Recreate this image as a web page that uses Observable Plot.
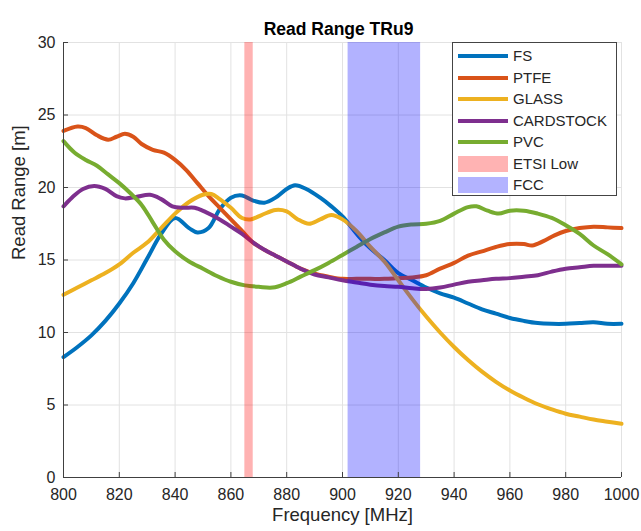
<!DOCTYPE html>
<html>
<head>
<meta charset="utf-8">
<script src="https://cdn.jsdelivr.net/npm/d3@7"></script>
<script src="https://cdn.jsdelivr.net/npm/@observablehq/plot@0.6"></script>
<style>
  body { margin: 0; background: #fff; }
  #wrap { position: relative; width: 641px; height: 531px; font-family: "Liberation Sans", Arial, sans-serif; }
  #legend { position: absolute; left: 452px; top: 42px; width: 165px; height: 154px; box-sizing: border-box;
            border: 1px solid #444; background: #fff; }
  .row { position: absolute; left: 0; height: 20px; width: 100%; }
  .sw-line { position: absolute; left: 5px; top: 8px; width: 50px; height: 4px; }
  .sw-patch { position: absolute; left: 5px; top: 2px; width: 50px; height: 16px; }
  .lab { position: absolute; left: 60px; top: 0; line-height: 20px; font-size: 15px; color: #262626; white-space: nowrap; }
</style>
</head>
<body>
<div id="wrap"></div>
<script>
const chartTitle = "Read Range TRu9";
const xLabel = "Frequency [MHz]";
const yLabel = "Read Range [m]";
const xDomain = [800, 1000];
const yDomain = [0, 30];
const xTicks = [800, 820, 840, 860, 880, 900, 920, 940, 960, 980, 1000];
const yTicks = [0, 5, 10, 15, 20, 25, 30];

const seriesNames = ["FS", "PTFE", "GLASS", "CARDSTOCK", "PVC"];
const seriesColors = ["#0072BD", "#D95319", "#EDB120", "#7E2F8E", "#77AC30"];

const fsFreq  = [800,805,810,815,820,825,830,835,840,845,848,852,856,860,864,868,872,876,880,883,887,892,896,900,906,910,915,920,925,930,935,940,945,950,955,960,965,970,975,980,985,990,995,1000];
const fsRange = [8.3,9.0,9.8,10.8,12.0,13.4,15.1,16.8,17.9,17.2,16.9,17.2,18.5,19.3,19.45,19.1,18.95,19.3,19.9,20.15,19.9,19.3,18.7,18.0,16.6,15.8,15.0,14.1,13.6,13.1,12.7,12.4,12.0,11.6,11.3,11.0,10.8,10.65,10.6,10.6,10.65,10.7,10.6,10.6];

const ptfeFreq  = [800,805,808,812,816,819,822,825,828,832,836,840,844,848,852,856,860,864,868,872,876,880,885,890,895,900,905,910,915,920,925,930,935,940,945,950,955,960,965,968,972,976,980,985,990,995,1000];
const ptfeRange = [23.9,24.2,24.1,23.6,23.3,23.5,23.7,23.5,23.0,22.6,22.4,21.9,21.2,20.3,19.4,18.6,17.8,17.0,16.2,15.7,15.3,14.9,14.4,14.05,13.85,13.7,13.7,13.7,13.7,13.75,13.8,13.95,14.4,14.8,15.3,15.6,15.9,16.1,16.1,16.0,16.3,16.7,17.0,17.2,17.3,17.25,17.2];

const glassFreq  = [800,805,810,815,820,825,830,835,840,845,850,853,856,860,864,867,871,876,880,884,888,892,896,900,905,910,915,920,925,930,935,940,945,950,955,960,965,970,975,980,985,990,995,1000];
const glassRange = [12.6,13.1,13.6,14.1,14.7,15.5,16.2,17.2,18.2,19.0,19.5,19.55,19.2,18.6,17.9,17.8,18.1,18.45,18.35,17.8,17.5,17.8,18.1,17.8,17.0,15.9,14.9,13.6,12.3,11.1,10.0,9.0,8.1,7.3,6.6,6.0,5.5,5.05,4.7,4.4,4.2,4.0,3.85,3.7];

const cardFreq  = [800,803,807,811,815,819,822,826,831,835,839,843,847,851,856,860,864,868,872,876,880,885,890,895,900,905,910,915,920,925,930,935,940,945,950,955,960,965,970,975,980,985,990,995,1000];
const cardRange = [18.7,19.3,19.9,20.1,19.9,19.4,19.25,19.35,19.5,19.2,18.7,18.6,18.6,18.3,17.8,17.3,16.8,16.2,15.7,15.3,14.9,14.4,14.0,13.8,13.6,13.45,13.3,13.2,13.15,13.05,13.0,13.1,13.3,13.5,13.6,13.7,13.75,13.85,13.95,14.2,14.4,14.5,14.6,14.6,14.6];

const pvcFreq  = [800,804,808,812,816,820,824,828,832,836,840,845,850,855,860,865,870,875,880,885,890,895,900,905,910,915,920,925,930,935,940,945,948,952,956,960,965,970,975,980,985,990,995,1000];
const pvcRange = [23.2,22.4,21.9,21.5,20.9,20.3,19.6,18.8,17.6,16.4,15.6,14.9,14.4,13.9,13.5,13.25,13.15,13.1,13.4,13.85,14.3,14.8,15.35,15.9,16.45,16.9,17.3,17.45,17.5,17.7,18.2,18.65,18.7,18.4,18.2,18.4,18.4,18.2,17.9,17.4,16.8,16.0,15.4,14.7];

const bandNames = ["ETSI Low", "FCC"];
const bandStart = [865, 902];
const bandEnd = [868, 928];
const bandColors = ["#FF0000", "#0000FF"];
const bandSwatch = ["#FFB3B3", "#B3B3FF"];

const seriesFreq = [fsFreq, ptfeFreq, glassFreq, cardFreq, pvcFreq];
const seriesRange = [fsRange, ptfeRange, glassRange, cardRange, pvcRange];

const seriesRows = seriesNames.map((name, i) =>
  seriesFreq[i].map((f, j) => ({name, f, v: seriesRange[i][j]})));
const bands = bandNames.map((name, i) => ({name, x1: bandStart[i], x2: bandEnd[i], color: bandColors[i]}));

const plot = Plot.plot({
  width: 641,
  height: 531,
  marginLeft: 63,
  marginRight: 20,
  marginTop: 42,
  marginBottom: 54,
  style: {fontFamily: "'Liberation Sans', Arial, sans-serif", fontSize: "16px", color: "#262626", background: "#fff"},
  x: {domain: xDomain},
  y: {domain: yDomain},
  marks: [
    Plot.gridX(xTicks, {stroke: "#e2e2e2", strokeOpacity: 1}),
    Plot.gridY(yTicks, {stroke: "#e2e2e2", strokeOpacity: 1}),
    ...seriesRows.map((rows, i) => Plot.line(rows, {x: "f", y: "v", stroke: seriesColors[i], strokeWidth: 4, curve: "catmull-rom", strokeLinejoin: "round"})),
    ...bands.map(b => Plot.rect([b], {x1: "x1", x2: "x2", y1: () => yDomain[0], y2: () => yDomain[1], fill: b.color, fillOpacity: 0.3})),
    Plot.ruleX([xDomain[0]], {stroke: "#404040"}),
    Plot.ruleY([yDomain[0]], {stroke: "#404040"}),
    Plot.axisX(xTicks, {tickSize: -5, tickPadding: 16, stroke: "#404040", fill: "#262626", fontSize: 16, label: null, tickFormat: d => String(d)}),
    Plot.axisY(yTicks, {tickSize: -5, tickPadding: 13, stroke: "#404040", fill: "#262626", fontSize: 16, label: null, tickFormat: d => String(d)}),
    Plot.text([chartTitle], {text: d => d, frameAnchor: "top", dy: -20, dx: -4, fontWeight: "bold", fontSize: 17.5, fill: "#000"}),
    Plot.text([xLabel], {text: d => d, frameAnchor: "bottom", dy: 43, fontSize: 18.5, fill: "#262626"}),
    Plot.text([yLabel], {text: d => d, frameAnchor: "left", dx: -44, rotate: -90, fontSize: 18.5, fill: "#262626"})
  ]
});

const wrap = document.getElementById("wrap");
wrap.appendChild(plot);

const legend = document.createElement("div");
legend.id = "legend";
const rowCenters = [13, 34.5, 56, 77.5, 99, 120.5, 142];
const entries = seriesNames.map((n, i) => ({n, type: "line", c: seriesColors[i]}))
  .concat(bandNames.map((n, i) => ({n, type: "patch", c: bandSwatch[i]})));
entries.forEach((e, i) => {
  const row = document.createElement("div");
  row.className = "row";
  row.style.top = (rowCenters[i] - 10) + "px";
  const sw = document.createElement("div");
  sw.className = e.type === "line" ? "sw-line" : "sw-patch";
  sw.style.background = e.c;
  const lab = document.createElement("div");
  lab.className = "lab";
  lab.textContent = e.n;
  row.appendChild(sw);
  row.appendChild(lab);
  legend.appendChild(row);
});
wrap.appendChild(legend);
</script>
</body>
</html>
